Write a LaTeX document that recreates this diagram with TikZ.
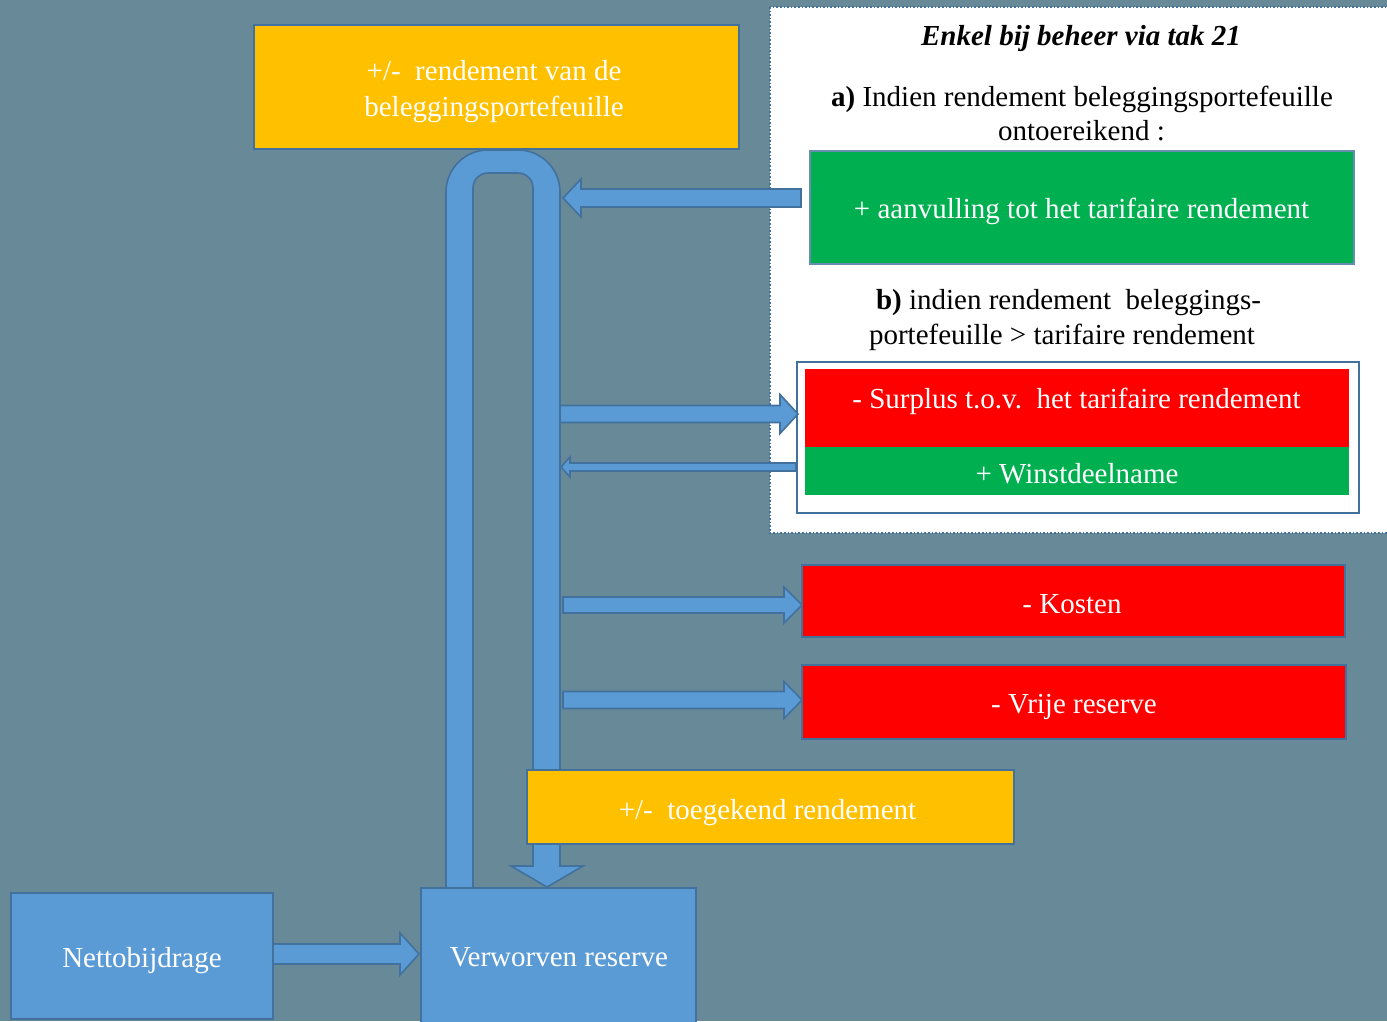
\documentclass[tikz,border=0pt]{standalone}
\usepackage{fontspec}
\setmainfont{Liberation Serif}
\usetikzlibrary{calc}
\definecolor{bg}{HTML}{678998}
\definecolor{edge}{HTML}{41719C}
\definecolor{ablue}{HTML}{5B9BD5}
\definecolor{gold}{HTML}{FFC000}
\definecolor{grn}{HTML}{00B050}
\definecolor{rd}{HTML}{FF0000}
\tikzset{
  box/.style={draw=edge, line width=2pt, inner sep=0pt, outer sep=0pt},
  plain/.style={inner sep=0pt, outer sep=0pt},
  wtxt/.style={inner sep=0pt, outer sep=0pt, anchor=base, text=white},
  btxt/.style={inner sep=0pt, outer sep=0pt, anchor=base, text=black},
  blockarrow/.style={fill=ablue, draw=edge, line width=1.6pt, line join=miter},
}
\newcommand\arrR[5]{\path[blockarrow] let \p1=(#1), \p2=(#2) in
  (\x1,\y2+#3) -- (\x2-#5,\y2+#3) -- (\x2-#5,\y2+#4) -- (\x2,\y2) -- (\x2-#5,\y2-#4) -- (\x2-#5,\y2-#3) -- (\x1,\y2-#3) -- cycle;}
\newcommand\arrL[5]{\path[blockarrow] let \p1=(#1), \p2=(#2) in
  (\x1,\y2+#3) -- (\x2+#5,\y2+#3) -- (\x2+#5,\y2+#4) -- (\x2,\y2) -- (\x2+#5,\y2-#4) -- (\x2+#5,\y2-#3) -- (\x1,\y2-#3) -- cycle;}
\begin{document}
\begin{tikzpicture}[x=1pt, y=-1pt, font=\fontsize{29}{35}\selectfont]
\useasboundingbox (0,0) rectangle (1387,1021);
\clip (0,0) rectangle (1387,1021);
\fill[bg] (0,0) rectangle (1387,1021);

% panel
\draw[edge, dotted, line width=1.6pt, fill=white] (770,7) rectangle (1400,533);

% U-turn arrow
\path[blockarrow] (446,888) -- (446,192) .. controls (446,168.8) and (464.8,150) .. (488,150)
  -- (518,150) .. controls (541.2,150) and (560,168.8) .. (560,192) -- (560,866)
  -- (583,866) -- (547,887) -- (511,866) -- (533,866) -- (533,188)
  .. controls (533,179.7) and (526.3,173) .. (518,173) -- (488,173)
  .. controls (479.7,173) and (473,179.7) .. (473,188) -- (473,888) -- cycle;

% top box
\node[box, fill=gold, minimum width=485, minimum height=124] (top) at (496.5,87) {};
\node[wtxt] (top1) at (494,80) {+/-\ \ rendement van de};
\node[wtxt] (top2) at (494,116) {beleggingsportefeuille};

% panel texts
\node[btxt] (title) at (1081,45) {\textbf{\textit{Enkel bij beheer via tak 21}}};
\node[btxt] (a1) at (1082,106.5) {\textbf{a)} Indien rendement beleggingsportefeuille};
\node[btxt] (a2) at (1081.5,140.5) {ontoereikend :};
\node[box, draw=edge!80, fill=grn, minimum width=544, minimum height=113] (ga) at (1082,207.5) {};
\node[wtxt] (gat) at (1081.5,218.5) {+ aanvulling tot het tarifaire rendement};
\node[btxt] (b1) at (1068.5,309.5) {\textbf{b)} indien rendement\ \ beleggings-};
\node[btxt] (b2) at (1062,344.5) {portefeuille > tarifaire rendement};

\node[box, fill=white, minimum width=562, minimum height=151] (bout) at (1078,437.5) {};
\node[plain, fill=rd, minimum width=544, minimum height=78] (bred) at (1077,408) {};
\node[wtxt] (bredt) at (1076.5,408.5) {- Surplus t.o.v.\ \ het tarifaire rendement};
\node[plain, fill=grn, minimum width=544, minimum height=48] (bgrn) at (1077,471) {};
\node[wtxt] (bgrnt) at (1077,483.5) {+ Winstdeelname};

\node[box, fill=rd, minimum width=543, minimum height=72] (kost) at (1073.5,601) {};
\node[wtxt] (kostt) at (1072,613.5) {- Kosten};
\node[box, fill=rd, minimum width=544, minimum height=74] (vrij) at (1074,702) {};
\node[wtxt] (vrijt) at (1074,713) {- Vrije reserve};

% horizontal arrows
\coordinate (a1t) at (801,198);   \coordinate (a1h) at (563,198);
\coordinate (a2t) at (560,414);   \coordinate (a2h) at (798,414);
\coordinate (a3t) at (796,467);   \coordinate (a3h) at (561,467);
\coordinate (a4t) at (563,605);   \coordinate (a4h) at (802,605);
\coordinate (a5t) at (563,700);   \coordinate (a5h) at (802,700);
\coordinate (a6t) at (273,954);   \coordinate (a6h) at (419,954);
\arrL{a1t}{a1h}{9pt}{19pt}{18pt}
\arrR{a2t}{a2h}{8.5pt}{19.5pt}{18pt}
\arrL{a3t}{a3h}{4pt}{10pt}{9pt}
\arrR{a4t}{a4h}{8pt}{18pt}{18pt}
\arrR{a5t}{a5h}{8.5pt}{18.5pt}{18pt}
\arrR{a6t}{a6h}{10pt}{21pt}{19pt}

\node[box, fill=gold, minimum width=487, minimum height=74] (toeg) at (770.5,807) {};
\node[wtxt] (toegt) at (767.5,819.5) {+/-\ \ toegekend rendement};
\node[box, fill=ablue, minimum width=262, minimum height=126] (net) at (141.5,956) {};
\node[wtxt] (nett) at (142,967) {Nettobijdrage};
\node[box, fill=ablue, minimum width=275, minimum height=136] (ver) at (558.5,956) {};
\node[wtxt] (vert) at (559,966) {Verworven reserve};
\end{tikzpicture}
\end{document}
